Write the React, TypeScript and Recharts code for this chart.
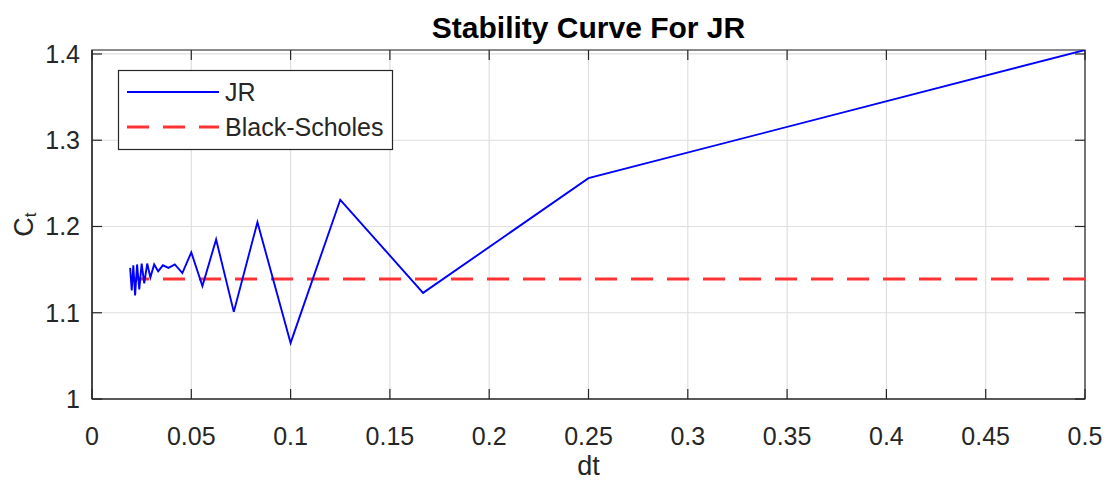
import { LineChart, Line, XAxis, YAxis, CartesianGrid, ReferenceArea } from 'recharts';

// time step dt = T/N for N = 1..26
const dtValues = [
  0.5, 0.25, 0.1667, 0.125, 0.1, 0.0833, 0.0714, 0.0625, 0.0556, 0.05, 0.0455, 0.0417, 0.0385,
  0.0357, 0.0333, 0.0313, 0.0294, 0.0278, 0.0263, 0.025, 0.0238, 0.0227, 0.0217, 0.0208, 0.02, 0.0192,
];
const jrValues = [
  1.4046, 1.256, 1.123, 1.231, 1.065, 1.205, 1.101, 1.185, 1.131, 1.17, 1.146, 1.156, 1.152,
  1.155, 1.148, 1.156, 1.141, 1.157, 1.134, 1.157, 1.127, 1.156, 1.12, 1.155, 1.126, 1.152,
];
const blackScholes = 1.1391;

const xTicks = [0, 0.05, 0.1, 0.15, 0.2, 0.25, 0.3, 0.35, 0.4, 0.45, 0.5];
const yTicks = [1, 1.1, 1.2, 1.3, 1.4];

const data = dtValues.map((dt, i) => ({ dt, jr: jrValues[i], bs: blackScholes }));

const W = 1113;
const H = 489;
const PL = 92;
const PR = 1085;
const PT = 50;
const PB = 399;
const INK = '#262626';
const FONT = '"Liberation Sans", Arial, sans-serif';

function XTick(props: any) {
  const { x, payload } = props;
  return (
    <g>
      <line x1={x} x2={x} y1={PB} y2={PB - 10} stroke={INK} strokeWidth={1.2} />
      <line x1={x} x2={x} y1={PT} y2={PT + 10} stroke={INK} strokeWidth={1.2} />
      <text x={x} y={436} textAnchor="middle" dominantBaseline="central" fontSize={25} fill={INK} fontFamily={FONT}>
        {String(payload.value)}
      </text>
    </g>
  );
}

function YTick(props: any) {
  const { y, payload } = props;
  return (
    <g>
      <line x1={PL} x2={PL + 10} y1={y} y2={y} stroke={INK} strokeWidth={1.2} />
      <line x1={PR - 10} x2={PR} y1={y} y2={y} stroke={INK} strokeWidth={1.2} />
      <text x={80} y={y} textAnchor="end" dominantBaseline="central" fontSize={25} fill={INK} fontFamily={FONT}>
        {String(payload.value)}
      </text>
    </g>
  );
}

export default function App() {
  const lx = 118;
  const ly = 70;
  return (
    <div style={{ position: 'absolute', left: 0, top: 0, width: W, height: H, background: '#fff' }}>
      <LineChart width={W} height={H} data={data} margin={{ top: PT, right: W - PR, bottom: 0, left: 0 }}>
        <CartesianGrid stroke="#dfdfdf" strokeWidth={1.2} />
        <XAxis
          dataKey="dt"
          type="number"
          domain={[0, 0.5]}
          ticks={xTicks}
          interval={0}
          height={H - PB}
          tickLine={false}
          axisLine={{ stroke: INK, strokeWidth: 1.2 }}
          tick={(p: any) => <XTick {...p} />}
          allowDataOverflow
        />
        <YAxis
          type="number"
          domain={[1, 1.4046]}
          ticks={yTicks}
          interval={0}
          width={PL}
          tickLine={false}
          axisLine={{ stroke: INK, strokeWidth: 1.2 }}
          tick={(p: any) => <YTick {...p} />}
          allowDataOverflow
        />
        <Line dataKey="bs" stroke="#ff3333" strokeWidth={2.8} strokeDasharray="22 14" dot={false} isAnimationActive={false} />
        <Line dataKey="jr" stroke="#0000ff" strokeWidth={1.9} dot={false} isAnimationActive={false} />
        <ReferenceArea x1={0} x2={0.5} y1={1} y2={1.4046} fill="none" stroke={INK} strokeWidth={1.2} ifOverflow="extendDomain" />
      </LineChart>
      <svg width={W} height={H} style={{ position: 'absolute', left: 0, top: 0, pointerEvents: 'none' }}>
        <text x={(PL + PR) / 2} y={27} textAnchor="middle" dominantBaseline="central" fontSize={30} fontWeight="bold" fill="#000" fontFamily={FONT}>
          Stability Curve For JR
        </text>
        <text x={(PL + PR) / 2} y={466} textAnchor="middle" dominantBaseline="central" fontSize={27} fill={INK} fontFamily={FONT}>
          dt
        </text>
        <text
          x={24}
          y={(PT + PB) / 2}
          transform={`rotate(-90, 24, ${(PT + PB) / 2})`}
          textAnchor="middle"
          dominantBaseline="central"
          fontSize={27}
          fill={INK}
          fontFamily={FONT}
        >
          C<tspan fontSize={17} dy={6}>t</tspan>
        </text>
        <g transform={`translate(${lx}, ${ly})`}>
          <rect x={0.5} y={0.5} width={274} height={79} fill="#fff" stroke={INK} strokeWidth={1.2} />
          <line x1={9} x2={101} y1={22} y2={22} stroke="#0000ff" strokeWidth={1.9} />
          <text x={107} y={22} dominantBaseline="central" fontSize={25} fill={INK} fontFamily={FONT}>JR</text>
          <line x1={9} x2={101} y1={57} y2={57} stroke="#ff3333" strokeWidth={2.8} strokeDasharray="22 14" />
          <text x={107} y={57} dominantBaseline="central" fontSize={25} fill={INK} fontFamily={FONT}>Black-Scholes</text>
        </g>
      </svg>
    </div>
  );
}
